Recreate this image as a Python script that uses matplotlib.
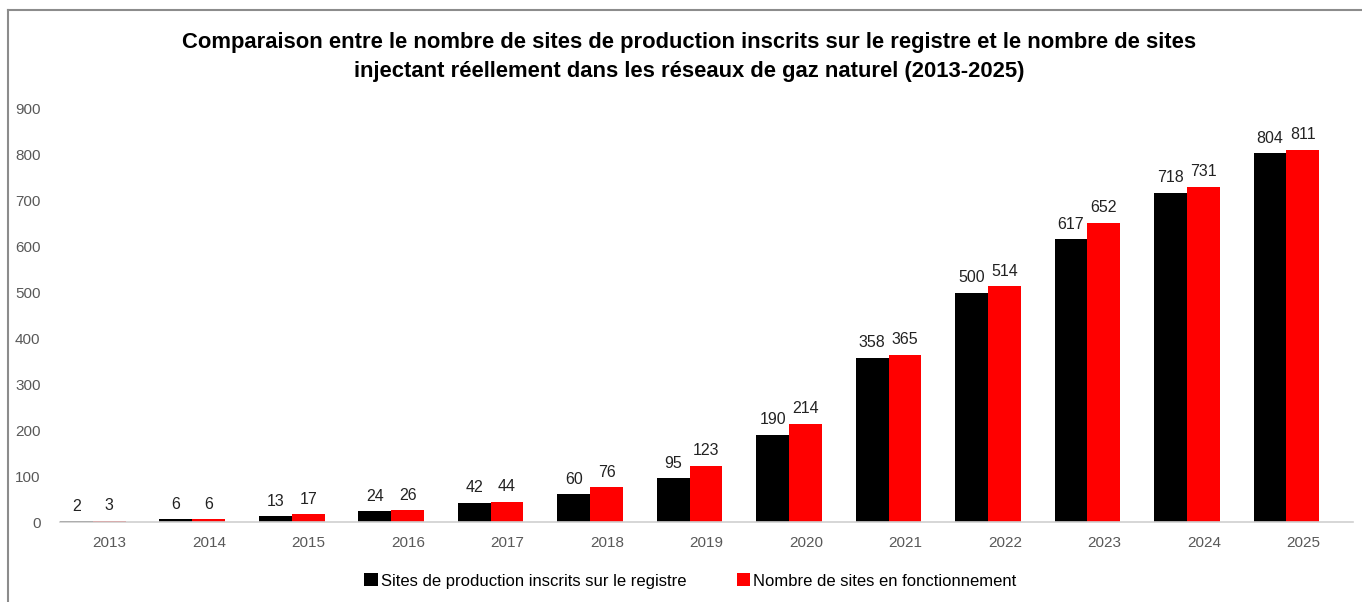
import numpy as np
import matplotlib.pyplot as plt
from matplotlib.lines import Line2D

years = ["2013", "2014", "2015", "2016", "2017", "2018", "2019",
         "2020", "2021", "2022", "2023", "2024", "2025"]
inscrits = [2, 6, 13, 24, 42, 60, 95, 190, 358, 500, 617, 718, 804]
en_service = [3, 6, 17, 26, 44, 76, 123, 214, 365, 514, 652, 731, 811]

label_inscrits = "Sites de production inscrits sur le registre"
label_service = "Nombre de sites en fonctionnement"
title = ("Comparaison entre le nombre de sites de production inscrits sur le registre et le nombre de sites\n"
         "injectant réellement dans les réseaux de gaz naturel (2013-2025)")

plt.rcParams["font.family"] = ["Liberation Sans", "DejaVu Sans"]

fig = plt.figure(figsize=(13.62, 6.02), dpi=100)
ax = fig.add_axes([60 / 1362, 1 - 522 / 602, 1293 / 1362, 413 / 602])

x = np.arange(len(years))
w = 0.33
shift = -0.17
ax.bar(x + shift - w / 2, inscrits, w, color="black", label=label_inscrits)
ax.bar(x + shift + w / 2, en_service, w, color="#ff0000", label=label_service)

for xi, v in zip(x, inscrits):
    ax.text(xi + shift - w / 2, v + 16, str(v), ha="center", va="bottom", fontsize=11.5, color="#222222")
for xi, v in zip(x, en_service):
    ax.text(xi + shift + w / 2, v + 16, str(v), ha="center", va="bottom", fontsize=11.5, color="#222222")

ax.set_xlim(-0.5, len(years) - 0.5)
ax.set_ylim(0, 900)
ax.set_yticks(range(0, 901, 100))
ax.set_xticks(x)
ax.set_xticklabels(years)
ax.tick_params(axis="both", length=0, colors="#595959", labelsize=11)
ax.tick_params(axis="x", pad=10)
ax.tick_params(axis="y", pad=14)
for s in ["top", "right", "left"]:
    ax.spines[s].set_visible(False)
ax.spines["bottom"].set_color("#d0d0d0")
ax.spines["bottom"].set_linewidth(1.2)

fig.text(0.506, 1 - 57 / 602, title, ha="center", va="center", fontsize=15.8,
         fontweight="bold", linespacing=1.5)

leg = fig.legend(loc="center", bbox_to_anchor=(0.507, 1 - 581 / 602), ncol=2, frameon=False,
                 prop={"size": 12}, handlelength=0.8, handleheight=0.8,
                 handletextpad=0.2, columnspacing=3.0)

# outer frame (cropped Excel chart border)
fig.add_artist(Line2D([8 / 1362, 8 / 1362], [0, 1 - 10 / 602], color="#8c8c8c", lw=1.5,
                      transform=fig.transFigure))
fig.add_artist(Line2D([8 / 1362, 1], [1 - 10 / 602, 1 - 10 / 602], color="#8c8c8c", lw=1.5,
                      transform=fig.transFigure))

fig.savefig("out.png", dpi=100)
